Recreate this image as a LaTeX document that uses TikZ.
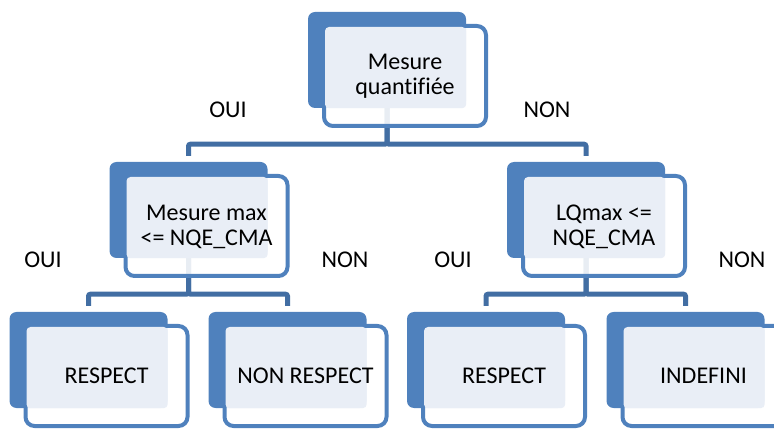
\documentclass[tikz,border=0pt]{standalone}
\usepackage{fontspec}
\setmainfont{Carlito}[Ligatures=NoCommon]
\usetikzlibrary{calc,backgrounds}
\begin{document}
\begin{tikzpicture}[x=1pt,y=-1pt]
\definecolor{boxblue}{RGB}{79,129,189}
\definecolor{linkblue}{RGB}{66,110,163}
\definecolor{paleblue}{RGB}{233,238,246}
\tikzstyle{back}=[fill=boxblue,rounded corners=7pt,minimum width=158pt,minimum height=96pt,inner sep=0pt]
\tikzstyle{front}=[draw=boxblue,line width=4pt,fill=white,fill opacity=0.88,rounded corners=9pt,minimum width=162pt,minimum height=100pt,inner sep=0pt]
\tikzstyle{pale}=[fill=paleblue,rounded corners=4pt]
\tikzstyle{txt}=[font=\fontsize{24}{25}\selectfont,align=center,inner sep=0pt]
\tikzstyle{answer}=[font=\fontsize{24}{25}\selectfont,inner sep=0pt]
\tikzstyle{link}=[linkblue,line width=5pt,rounded corners=2pt,shorten >=6pt]
\useasboundingbox (0,0) rectangle (774,430);
% boxes
\node[back] (q) at (387,60) {};
\node[front] (qf) at (405,76) {};
\node[back] (m1) at (188.5,210) {};
\node[front] (m1f) at (206.5,226) {};
\node[back] (m2) at (586,210) {};
\node[front] (m2f) at (604,226) {};
\node[back] (r1) at (88.5,360) {};
\node[front] (r1f) at (106.5,376) {};
\node[back] (r2) at (287.5,360) {};
\node[front] (r2f) at (305.5,376) {};
\node[back] (r3) at (486,360) {};
\node[front] (r3f) at (504,376) {};
\node[back] (r4) at (685.5,360) {};
\node[front] (r4f) at (703.5,376) {};
% pale overlaps
\fill[pale] ($(qf.north west)+(3,3)$) rectangle (q.south east);
\fill[pale] ($(m1f.north west)+(3,3)$) rectangle (m1.south east);
\fill[pale] ($(m2f.north west)+(3,3)$) rectangle (m2.south east);
\fill[pale] ($(r1f.north west)+(3,3)$) rectangle (r1.south east);
\fill[pale] ($(r2f.north west)+(3,3)$) rectangle (r2.south east);
\fill[pale] ($(r3f.north west)+(3,3)$) rectangle (r3.south east);
\fill[pale] ($(r4f.north west)+(3,3)$) rectangle (r4.south east);
% texts
\node[txt] (qt) at (qf) {Mesure\\quantifiée};
\node[txt] (m1t) at ($(m1f)+(0,1)$) {Mesure max\\<= NQE\_CMA};
\node[txt] (m2t) at ($(m2f)+(0,1)$) {LQmax <=\\NQE\_CMA};
\node[txt] (r1t) at (r1f) {RESPECT};
\node[txt] (r2t) at (r2f) {NON RESPECT};
\node[txt] (r3t) at (r3f) {RESPECT};
\node[txt] (r4t) at (r4f) {INDEFINI};
% answers
\node[answer] (oui1) at (228,110) {OUI};
\node[answer] (non1) at (547,110) {NON};
\node[answer] (oui2) at (43,260) {OUI};
\node[answer] (non2) at (345,260) {NON};
\node[answer] (oui3) at (453,260) {OUI};
\node[answer] (non3) at (742,260) {NON};
% connectors
\begin{scope}[on background layer]
\draw[link] (q.south) -- ++(0,36) -| (m1.north);
\draw[link] (q.south) -- ++(0,36) -| (m2.north);
\draw[link] (m1.south) -- ++(0,36) -| (r1.north);
\draw[link] (m1.south) -- ++(0,36) -| (r2.north);
\draw[link] (m2.south) -- ++(0,36) -| (r3.north);
\draw[link] (m2.south) -- ++(0,36) -| (r4.north);
\end{scope}
\end{tikzpicture}
\end{document}
